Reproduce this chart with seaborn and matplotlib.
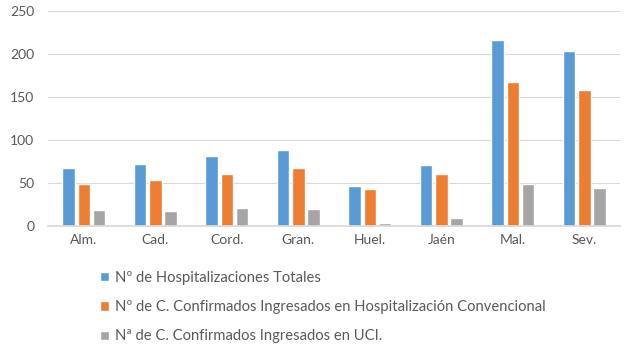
import matplotlib
matplotlib.use("Agg")
import matplotlib.pyplot as plt
import seaborn as sns
import pandas as pd

categories = ["Alm.", "Cad.", "Cord.", "Gran.", "Huel.", "Jaén", "Mal.", "Sev."]
series_names = [
    "Nº de Hospitalizaciones Totales",
    "Nº de C. Confirmados Ingresados en Hospitalización Convencional",
    "Nª de C. Confirmados Ingresados en UCI.",
]
totales = [68, 72, 81, 88, 47, 71, 216, 203]
convencional = [49, 54, 60, 67, 43, 61, 168, 158]
uci = [19, 17, 21, 20, 3, 9, 49, 44]
colors = ["#5B9BD5", "#ED7D31", "#A5A5A5"]

rows = []
for name, vals in zip(series_names, [totales, convencional, uci]):
    for c, v in zip(categories, vals):
        rows.append({"cat": c, "serie": name, "val": v})
df = pd.DataFrame(rows)

sns.set_theme(style="white")
plt.rcParams["font.family"] = ["Lato", "DejaVu Sans"]

fig = plt.figure(figsize=(6.25, 3.56), dpi=100)
ax = fig.add_axes([0.077, 0.365, 0.915, 0.604])
sns.barplot(data=df, x="cat", y="val", hue="serie", palette=colors,
            width=0.64, gap=0.18, ax=ax, legend=True, saturation=1)
ax.set_ylim(0, 250)
ax.set_yticks([0, 50, 100, 150, 200, 250])
ax.set_xlabel("")
ax.set_ylabel("")
ax.grid(axis="y", color="#D9D9D9", linewidth=0.8)
ax.set_axisbelow(True)
for s in ["top", "right", "left"]:
    ax.spines[s].set_visible(False)
ax.spines["bottom"].set_color("#D9D9D9")
ax.tick_params(axis="both", colors="#595959", labelsize=10, length=0, pad=6)
ax.tick_params(axis="y", pad=10)

handles, labels = ax.get_legend_handles_labels()
ax.get_legend().remove()
leg = fig.legend(handles, labels, loc="upper left", bbox_to_anchor=(0.16, 0.24),
                 frameon=False, fontsize=10.6, labelspacing=1.05,
                 handlelength=0.6, handleheight=0.6, handletextpad=0.4,
                 borderaxespad=0, borderpad=0)
for t in leg.get_texts():
    t.set_color("#595959")

fig.savefig("out.png", dpi=100)
